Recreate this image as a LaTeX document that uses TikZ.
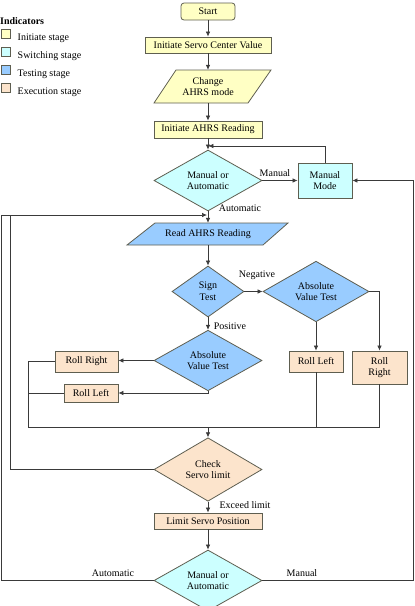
\documentclass[tikz,border=0pt]{standalone}
\usepackage{fontspec}
\setmainfont{Liberation Serif}
\usetikzlibrary{arrows.meta,shapes.geometric,calc}
\definecolor{cyel}{HTML}{FFFFC4}
\definecolor{ccyan}{HTML}{CCFFFF}
\definecolor{cblue}{HTML}{99CCFF}
\definecolor{cpeach}{HTML}{FCE4CC}
\definecolor{cline}{HTML}{3A3A3A}
\definecolor{cbord}{HTML}{5E5E50}
\begin{document}
\begin{tikzpicture}[x=1pt,y=-1pt, font=\fontsize{10}{11.7}\selectfont,
 box/.style={draw=cbord, line width=0.8pt, inner sep=0pt, align=center},
 dia/.style={diamond, draw=cbord, line width=0.8pt, inner sep=0pt, align=center},
 para/.style={draw=cbord, line width=0.8pt},
 ghost/.style={inner sep=0pt, align=center, minimum width=1pt},
 arr/.style={draw=cline, line width=0.7pt, -{Latex[length=5pt,width=4.5pt]}},
 ln/.style={draw=cline, line width=0.7pt},
 lbl/.style={inner sep=1pt},
 legsq/.style={draw=cbord, line width=0.7pt, minimum width=9pt, minimum height=9pt, inner sep=0pt},
 legtx/.style={anchor=west, inner sep=0pt}]
\useasboundingbox (0,0) rectangle (415,606);

% legend
\node[anchor=west, inner sep=0pt, font=\fontsize{10}{11.7}\selectfont\bfseries] (ind) at (0,21) {Indicators};
\node[legsq, fill=cyel] (l1) at (6,33.5) {};
\node[legtx] (t1) at (17.5,38.5) {Initiate stage};
\node[legsq, fill=ccyan] (l2) at (6,51.5) {};
\node[legtx] (t2) at (17.5,56.5) {Switching stage};
\node[legsq, fill=cblue] (l3) at (6,69.5) {};
\node[legtx] (t3) at (17.5,74.5) {Testing stage};
\node[legsq, fill=cpeach] (l4) at (6,87.5) {};
\node[legtx] (t4) at (17.5,92.5) {Execution stage};

% nodes
\node[box, rounded corners=3pt, fill=cyel, minimum width=54pt, minimum height=17pt] (start) at (208,11.5) {Start};
\node[box, fill=cyel, minimum width=126pt, minimum height=16pt] (isc) at (208,45) {Initiate Servo Center Value};
\draw[para, fill=cyel] (154,103) -- (176,70) -- (271,70) -- (248,103) -- cycle;
\node[ghost, minimum height=33pt] (chg) at (208,86.5) {Change\\AHRS mode};
\node[box, fill=cyel, minimum width=108pt, minimum height=17pt] (iar) at (208,129.5) {Initiate AHRS Reading};
\node[dia, fill=ccyan, minimum width=108pt, minimum height=51pt] (m1) at (208,180.5) {Manual or\\Automatic};
\node[box, fill=ccyan, minimum width=54pt, minimum height=35pt] (mm) at (325,180.5) {Manual\\Mode};
\draw[para, fill=cblue] (127,245) -- (155,223) -- (288,223) -- (263,245) -- cycle;
\node[ghost, minimum height=22pt] (read) at (208,234) {Read AHRS Reading};
\node[dia, fill=cblue, minimum width=72pt, minimum height=51pt] (sign) at (208,291.5) {Sign\\Test};
\node[dia, fill=cblue, minimum width=106pt, minimum height=51pt] (avr) at (316,291.5) {Absolute\\Value Test};
\node[dia, fill=cblue, minimum width=108pt, minimum height=51pt] (avl) at (208,360.5) {Absolute\\Value Test};
\node[box, fill=cpeach, minimum width=63pt, minimum height=21pt] (rrl) at (86.5,361.5) {Roll Right};
\node[box, fill=cpeach, minimum width=54pt, minimum height=18pt] (rll) at (91,393) {Roll Left};
\node[box, fill=cpeach, minimum width=54pt, minimum height=21pt] (rlr) at (316,361.5) {Roll Left};
\node[box, fill=cpeach, minimum width=55pt, minimum height=33pt] (rrr) at (379.5,367.5) {Roll\\Right};
\node[dia, fill=cpeach, minimum width=108pt, minimum height=51pt] (chk) at (208,469.5) {Check\\Servo limit};
\node[box, fill=cpeach, minimum width=108pt, minimum height=16pt] (lim) at (208,521) {Limit Servo Position};
\node[dia, fill=ccyan, minimum width=108pt, minimum height=51pt] (m2) at (208,580.5) {Manual or\\Automatic};

% junction coordinates
\coordinate (j1) at (208,146);
\coordinate (j2) at (208,215);
\coordinate (j3) at (208,427.5);
\coordinate (lx) at (28,427.5);
\coordinate (ox) at (1.5,215);
\coordinate (ix) at (10,215);
\coordinate (rx) at (413.5,180.5);

% connectors
\draw[arr] (start) -- (isc);
\draw[arr] (isc) -- (chg);
\draw[arr] (chg) -- (iar);
\draw[arr] (iar) -- (m1);
\draw[arr] (m1.east) -- (mm.west);
\draw[arr, shorten >=0.4pt] (mm.north) |- (j1);
\draw[arr] (m1.south) -- (read.north);
\draw[arr, shorten >=1pt] (m2.west) -| (ox) -- (j2);
\draw[ln] (chk.west) -| (ix);
\draw[arr] (read) -- (sign);
\draw[arr] (sign.east) -- (avr.west);
\draw[arr] (sign.south) -- (avl.north);
\draw[arr] (avr.east) -| (rrr.north);
\draw[arr] (avr.south) -- (rlr.north);
\draw[arr] (avl.west) -- (avl.west -| rrl.east);
\draw[arr] (avl.south) |- (rll.east);
\draw[ln] (rrl.west) -| (lx) -| (rrr.south);
\draw[ln] (rll.west) -- (rll.west -| lx);
\draw[ln] (rlr.south) -- (rlr.south |- lx);
\draw[arr] (j3) -- (chk.north);
\draw[arr] (chk) -- (lim);
\draw[arr] (lim) -- (m2);
\draw[arr] (m2.east) -| (rx) -- (mm.east);

% labels
\node[lbl] (lman1) at (275,173) {Manual};
\node[lbl] (laut1) at (240,208) {Automatic};
\node[lbl] (lneg) at (257,275) {Negative};
\node[lbl] (lpos) at (230,326.5) {Positive};
\node[lbl] (lexc) at (245,505) {Exceed limit};
\node[lbl] (laut2) at (113,573) {Automatic};
\node[lbl] (lman2) at (302,573) {Manual};
\end{tikzpicture}
\end{document}
